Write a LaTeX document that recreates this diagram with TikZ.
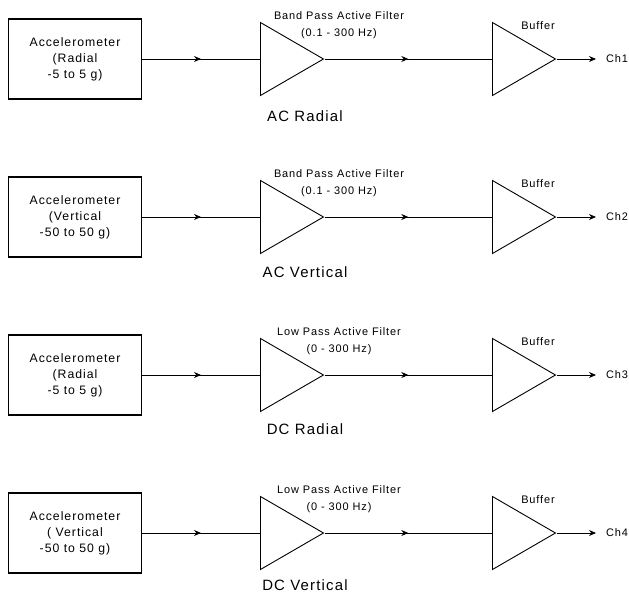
\documentclass[tikz,border=0pt]{standalone}
\usepackage{fontspec}
\setmainfont{Liberation Sans}[LetterSpace=8]
\usetikzlibrary{arrows.meta,positioning,shapes.geometric,decorations.markings}

\begin{document}
\begin{tikzpicture}[x=1bp,y=1bp,
    sensor/.style={draw, line width=1.1bp, minimum width=133bp, minimum height=80bp,
      inner sep=0pt, align=center, font=\fontsize{12.3}{16}\selectfont},
    amp/.style={draw, line width=0.9bp, isosceles triangle, isosceles triangle stretches,
      shape border rotate=0, minimum width=73bp, minimum height=63bp, inner sep=0pt, anchor=lower side},
    wire/.style={line width=0.8bp},
    midarrow/.style={wire, postaction={decorate}, decoration={markings,
      mark=at position 0.5 with {\arrow{Stealth[length=7bp,width=6bp]}}}},
    outarrow/.style={wire, -{Stealth[length=7bp,width=6bp]}},
    small/.style={font=\fontsize{11}{17}\selectfont, align=center, inner sep=0pt},
    title/.style={font=\fontsize{15}{18}\selectfont, inner sep=0pt}]
    \useasboundingbox (0,0) rectangle (629,-595);

    % one signal chain per row
    \foreach \r/\filt/\band/\name/\axis/\range in
      {1/Band/0.1/AC Radial/(Radial/-5 to 5,
       2/Band/0.1/AC Vertical/(Vertical/-50 to 50,
       3/Low/0/DC Radial/(Radial/-5 to 5,
       4/Low/0/DC Vertical/( Vertical/-50 to 50}
    {
      \pgfmathsetmacro{\ly}{-59-158*(\r-1)}
      \pgfmathsetmacro{\ty}{\ly-57+1.5*(\r-1)}
      \node[sensor] (acc\r) at (75,\ly) {Accelerometer\\\axis\\\range\ g)};
      \node[amp] (flt\r) at (260,\ly) {};
      \node[amp] (buf\r) at (492,\ly) {};
      \coordinate (out\r) at (596,\ly);
      \node[small] (fltlab\r) at (339,\ly+34) {\filt\ Pass Active Filter\\(\band\ - 300 Hz)};
      \node[small] (buflab\r) at (538,\ly+33) {Buffer};
      \node[title] (name\r) at (305,\ty) {\name};
      \node[small, right=10bp of out\r] (ch\r) {Ch\r};
      \draw[midarrow] (acc\r.east) -- (flt\r.lower side);
      \draw[midarrow] (flt\r.apex) -- (buf\r.lower side);
      \draw[outarrow] (buf\r.apex) -- (out\r);
    }
\end{tikzpicture}
\end{document}
